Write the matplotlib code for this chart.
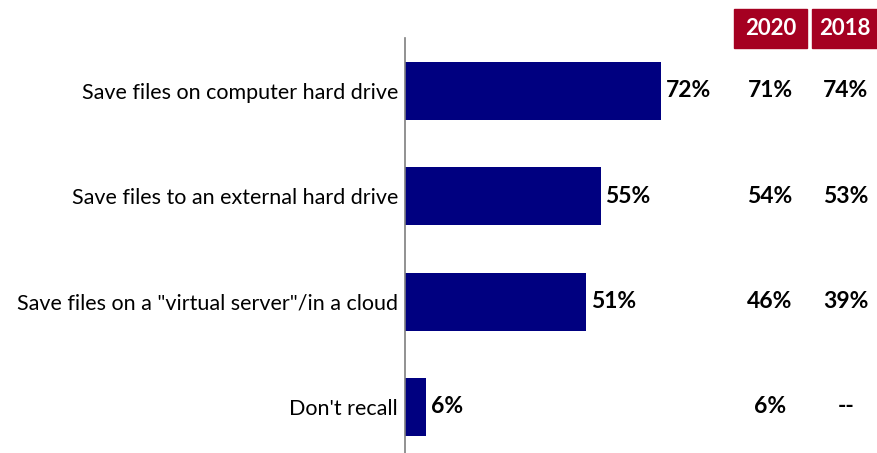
import matplotlib

matplotlib.use("Agg")
from matplotlib import pyplot as plt
from matplotlib.patches import Rectangle
from matplotlib.transforms import blended_transform_factory

# Data
categories = ["Save files on computer hard drive",
              "Save files to an external hard drive",
              "Save files on a \"virtual server\"/in a cloud",
              "Don't recall"]
values_2022 = [72, 55, 51, 6]
values_2020 = ["71%", "54%", "46%", "6%"]
values_2018 = ["74%", "53%", "39%", "--"]
years = ["2020", "2018"]

navy = "#000080"
red = "#A50021"

plt.rcParams['font.family'] = ['Lato', 'DejaVu Sans']

W, H = 877, 453
fig = plt.figure(figsize=(W / 100, H / 100), dpi=100)

# axes placed in pixel units: left edge at x=405, 100% at ~761
left, right_px = 405, 405 + 100 * 256 / 72
top, bottom = 38, 453
ax = fig.add_axes([left / W, 1 - bottom / H, (right_px - left) / W, (bottom - top) / H])

ypos = list(range(len(categories)))
ax.barh(ypos, values_2022, height=0.55, color=navy)
ax.set_xlim(0, 100)
ax.set_ylim(3.437, -0.503)

for s in ["top", "right", "bottom"]:
    ax.spines[s].set_visible(False)
ax.spines["left"].set_color("#7f7f7f")
ax.spines["left"].set_linewidth(1.2)
ax.set_xticks([])
ax.set_yticks(ypos)
ax.set_yticklabels(categories, fontsize=15.5, color="#000000")
ax.tick_params(axis="y", length=0, pad=5)

for y, v in zip(ypos, values_2022):
    ax.text(v + 1.3, y, f"{v}%", va="center", ha="left", fontsize=16.5,
            fontweight="bold", color="#000000")

# comparison columns
col_x = [770, 846]
trans = blended_transform_factory(fig.transFigure, ax.transData)
for y, a, b in zip(ypos, values_2020, values_2018):
    for cx, t in zip(col_x, [a, b]):
        ax.text(cx / W, y, t, transform=trans, va="center", ha="center",
                fontsize=16.5, fontweight="bold", color="#000000")

# year header boxes
boxes = [(734, 807), (812, 877)]
for (x0, x1), yr in zip(boxes, years):
    fig.patches.append(Rectangle((x0 / W, 1 - 48 / H), (x1 - x0) / W, 39 / H,
                                 transform=fig.transFigure, color=red))
    fig.text((x0 + x1) / 2 / W, 1 - 28.5 / H, yr, ha="center", va="center",
             fontsize=16, fontweight="bold", color="white")

fig.savefig("out.png", dpi=100)
